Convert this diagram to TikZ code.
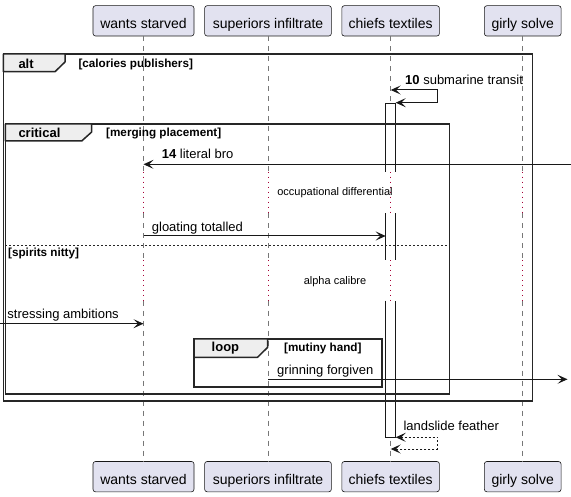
\documentclass[tikz,border=0pt]{standalone}
\usepackage{fontspec}
\setmainfont{Liberation Sans}
\usetikzlibrary{arrows.meta}
\definecolor{partfill}{HTML}{E2E2F0}
\definecolor{partline}{HTML}{181818}
\definecolor{delayred}{HTML}{A80036}
\definecolor{tabfill}{HTML}{EEEEEE}
\definecolor{lifegray}{HTML}{777777}
\begin{document}
\begin{tikzpicture}[x=1pt,y=-1pt,
  part/.style={draw=partline, fill=partfill, rounded corners=2.5pt, line width=0.6pt,
    font=\fontsize{14}{16}\selectfont, inner sep=0pt, minimum height=30.3pt,
    text height=15pt, text depth=0pt},
  lifeline/.style={draw=lifegray, line width=0.6pt, dash pattern=on 5pt off 5pt},
  delayline/.style={draw=delayred, line width=1pt, dash pattern=on 1pt off 4pt},
  actbox/.style={draw=partline, fill=white, line width=1pt},
  frameline/.style={draw=black!85, line width=1.5pt},
  tabshape/.style={draw=black!85, fill=tabfill, line width=1.5pt, line join=round},
  msg/.style={draw=partline, line width=1pt, -{Stealth[length=10pt,width=9pt,inset=4.5pt]}},
  msgboth/.style={draw=partline, line width=1pt, {Stealth[length=10pt,width=9pt,inset=4.5pt]}-{Stealth[length=10pt,width=9pt,inset=4.5pt]}},
  msglabel/.style={font=\fontsize{13}{15}\selectfont, inner sep=0pt, anchor=base west},
  framelabel/.style={font=\fontsize{13}{15}\selectfont\bfseries, inner sep=0pt, anchor=base west},
  condlabel/.style={font=\fontsize{11.7}{13}\selectfont\bfseries, inner sep=0pt, anchor=base west},
  delaylabel/.style={font=\fontsize{11}{13}\selectfont, inner sep=0pt, anchor=base},
  elseline/.style={draw=black!85, line width=1pt, dash pattern=on 2pt off 2pt}
]
\useasboundingbox (0,0) rectangle (571,497);
\fill[white] (0,0) rectangle (571,497);

% participants
\node[part, minimum width=101pt] (ws) at (143.5,20.85) {wants starved};
\node[part, minimum width=126.7pt] (si) at (268,20.85) {superiors infiltrate};
\node[part, minimum width=97.6pt] (ct) at (390.6,20.85) {chiefs textiles};
\node[part, minimum width=76.7pt] (gs) at (522.7,20.85) {girly solve};
\node[part, minimum width=101pt] (wsb) at (143.5,476.65) {wants starved};
\node[part, minimum width=126.7pt] (sib) at (268,476.65) {superiors infiltrate};
\node[part, minimum width=97.6pt] (ctb) at (390.6,476.65) {chiefs textiles};
\node[part, minimum width=76.7pt] (gsb) at (522.7,476.65) {girly solve};

% lifelines with delays
\foreach \p in {ws,si,ct,gs}{
  \draw[lifeline] (\p.south) -- (\p.south |- 0,171.7);
  \draw[delayline] (\p.south |- 0,171.7) -- (\p.south |- 0,213.3);
  \draw[lifeline] (\p.south |- 0,213.3) -- (\p.south |- 0,260);
  \draw[delayline] (\p.south |- 0,260) -- (\p.south |- 0,300.7);
  \draw[lifeline] (\p.south |- 0,300.7) -- (\p b.north);
}

% activation on chiefs textiles
\draw[actbox] (385.7,171.7) -- (385.7,103.3) -- (395.7,103.3) -- (395.7,171.7);
\fill[white] (385.7,213.3) rectangle (395.7,260);
\draw[partline, line width=1pt] (385.7,213.3) -- (385.7,260) (395.7,213.3) -- (395.7,260);
\draw[actbox] (385.7,300.7) -- (385.7,437.3) -- (395.7,437.3) -- (395.7,300.7);

% alt frame
\draw[frameline] (3.3,54) rectangle (532.7,401);
\draw[tabshape] (3.3,54) -- (65,54) -- (65,62) -- (55,71.7) -- (3.3,71.7) -- cycle;
\node[framelabel] (altl) at (18.3,69) {alt};
\node[condlabel] (altc) at (78.3,68) {[calories publishers]};

% critical frame
\draw[frameline] (5.3,124) rectangle (449.3,394);
\draw[tabshape] (5.3,124) -- (91.7,124) -- (91.7,132) -- (81.7,141) -- (5.3,141) -- cycle;
\node[framelabel] (crl) at (18.3,138) {critical};
\node[condlabel] (crc) at (106,137) {[merging placement]};
\draw[elseline] (5.3,245.3) -- (449.3,245.3);
\node[condlabel] (elc) at (8,257) {[spirits nitty]};

% loop frame
\draw[frameline] (194,339) rectangle (382,387);
\draw[tabshape] (194,339) -- (267.5,339) -- (267.5,347.5) -- (257.5,357.3) -- (194,357.3) -- cycle;
\node[framelabel] (lpl) at (211.5,352) {loop};
\node[condlabel] (lpc) at (284,352) {[mutiny hand]};

% messages
\coordinate (m10a) at (390.7,90);
\coordinate (m10b) at (437.7,90);
\coordinate (m10c) at (437.7,102.7);
\coordinate (m10d) at (395.7,102.7);
\draw[msgboth] (m10a) -- (m10b) -- (m10c) -- (m10d);
\node[msglabel] (l10) at (405,85) {\textbf{10} submarine transit};

\coordinate (m14a) at (571,164.3);
\draw[msg] (m14a) -- (ws.south |- m14a);
\node[msglabel] (l14) at (161.7,159) {\textbf{14} literal bro};

\node[delaylabel] (d1) at (335,196) {occupational differential};

\coordinate (mga) at (385.7,236);
\draw[msg] (ws.south |- mga) -- (mga);
\node[msglabel] (lg) at (151.7,231.5) {gloating totalled};

\node[delaylabel] (d2) at (335,284.5) {alpha calibre};

\coordinate (msa) at (0,323.7);
\draw[msg] (msa) -- (ws.south |- msa);
\node[msglabel] (ls) at (7.3,319) {stressing ambitions};

\coordinate (mgf) at (567.5,379.3);
\draw[msg] (si.south |- mgf) -- (mgf);
\node[msglabel] (lgf) at (277,374.5) {grinning forgiven};

\coordinate (mla) at (395.7,437.3);
\coordinate (mlb) at (437.7,437.3);
\coordinate (mlc) at (437.7,449);
\coordinate (mld) at (390.7,449);
\draw[msgboth, dash pattern=on 2pt off 2pt] (mla) -- (mlb) -- (mlc) -- (mld);
\node[msglabel] (ll) at (403.3,430.5) {landslide feather};
\end{tikzpicture}
\end{document}
